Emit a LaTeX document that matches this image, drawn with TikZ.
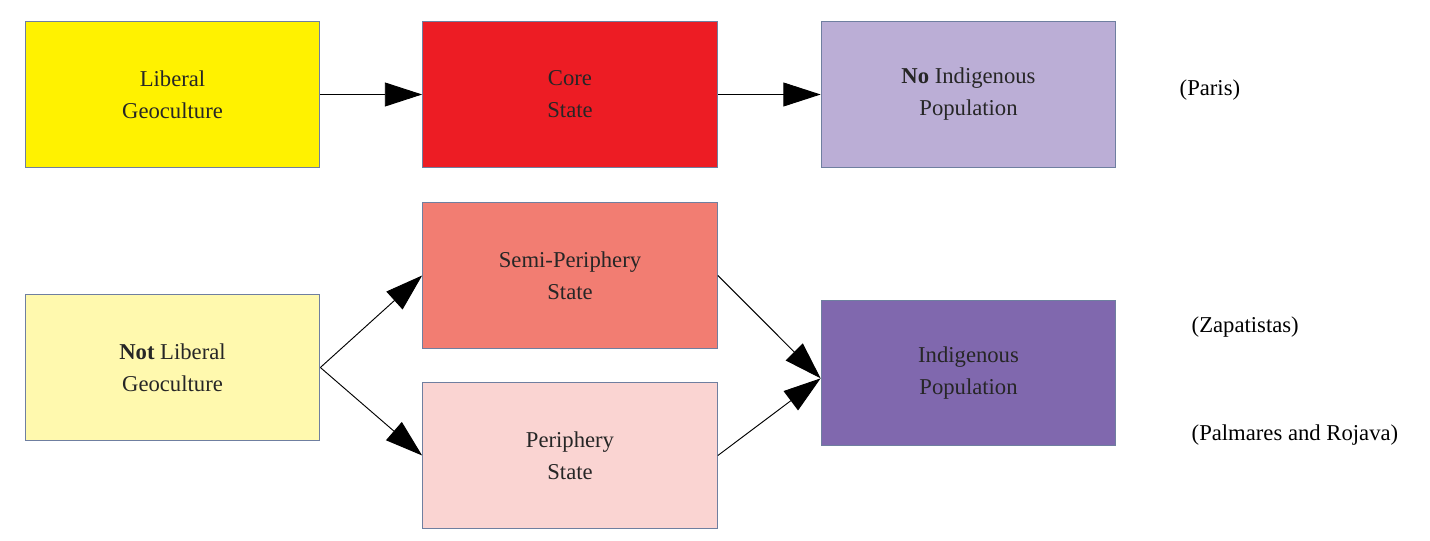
\documentclass[tikz,border=0pt]{standalone}
\usepackage{fontspec}
\setmainfont{Liberation Serif}
\usetikzlibrary{arrows.meta}
\definecolor{cy}{HTML}{FFF200}
\definecolor{cr}{HTML}{ED1C24}
\definecolor{cl}{HTML}{BBAED6}
\definecolor{cs}{HTML}{F27D72}
\definecolor{cly}{HTML}{FFF9AE}
\definecolor{cp}{HTML}{FAD4D2}
\definecolor{cv}{HTML}{8068AE}
\definecolor{bd}{HTML}{6F7FA0}
\tikzset{box/.style={draw=bd,line width=0.8pt,minimum width=221pt,minimum height=109pt,align=center,font=\fontsize{17}{24}\selectfont,text=black!85},
 arr/.style={-{Triangle[length=28pt,width=18pt]},line width=0.7pt},
 side/.style={anchor=west,font=\fontsize{17}{24}\selectfont}}
\begin{document}
\begin{tikzpicture}[x=0.75pt,y=-0.75pt]
\useasboundingbox (0,0) rectangle (1430,541);
\node[box,fill=cy] (lg) at (172.5,94.5) {Liberal\\Geoculture};
\node[box,fill=cr] (cs) at (570,94.5) {Core\\State};
\node[box,fill=cl] (ni) at (968.5,94.5) {\textbf{No} Indigenous\\Population};
\node[box,fill=cs] (sp) at (570,275.5) {Semi-Periphery\\State};
\node[box,fill=cly] (nl) at (172.5,367.5) {\textbf{Not} Liberal\\Geoculture};
\node[box,fill=cp] (pe) at (570,455.5) {Periphery\\State};
\node[box,fill=cv] (ip) at (968.5,373) {Indigenous\\Population};
\node[side] (t1) at (1175,90) {(Paris)};
\node[side] (t2) at (1187,327) {(Zapatistas)};
\node[side] (t3) at (1187,435) {(Palmares and Rojava)};
\draw[arr] (lg) -- (cs);
\draw[arr] (cs) -- (ni);
\draw[arr] (nl.east) -- (sp.west);
\draw[arr] (nl.east) -- (pe.west);
\draw[arr] (sp.east) -- ([yshift=-4pt]ip.west);
\draw[arr] (pe.east) -- ([yshift=-4pt]ip.west);
\end{tikzpicture}
\end{document}
